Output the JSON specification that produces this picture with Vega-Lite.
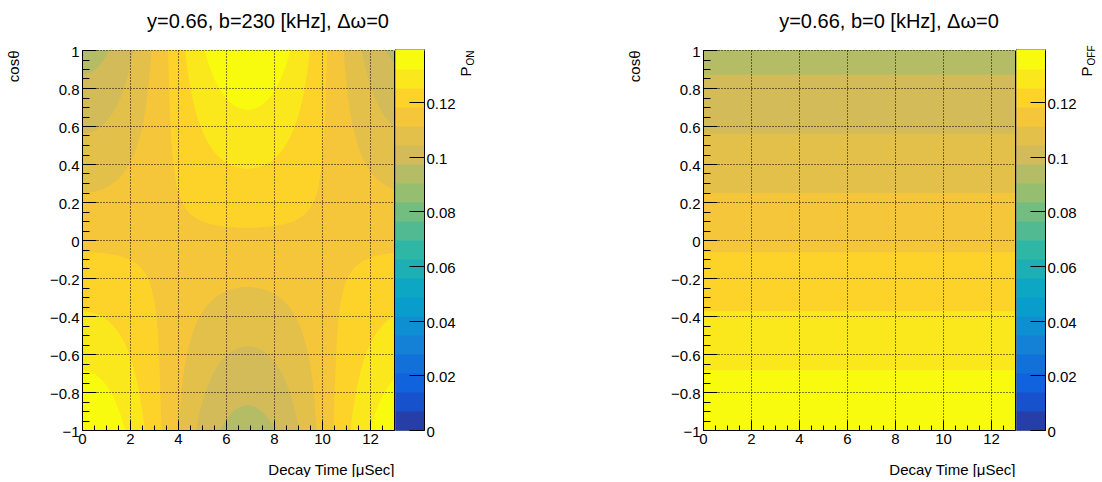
{
  "$schema": "https://vega.github.io/schema/vega-lite/v6.json",
  "background": "white",
  "padding": {"left": 6, "top": 11, "right": 0, "bottom": 0},
  "config": {
    "font": "Liberation Sans",
    "view": {"stroke": "black", "strokeWidth": 2},
    "axis": {"domain": false, "labelFont": "Liberation Sans", "labelFontSize": 15, "labelColor": "black", "tickColor": "black", "titleFont": "Liberation Sans", "titleFontSize": 15, "titleFontWeight": "normal", "titleColor": "black", "labelOverlap": false, "labelFlush": false, "gridColor": "black", "gridWidth": 1}
  },
  "datasets": {
    "pOn": [
      {"t":0,"lo":-1.5,"hi":1.5,"p":0.0938,"part":"a"},{"t":13,"lo":-1.5,"hi":1.5,"p":0.0938,"part":"a"},
      {"t":0,"lo":-1.5,"hi":0.87,"p":0.1008,"part":"a"},{"t":0.15,"lo":-1.5,"hi":0.872,"p":0.1008,"part":"a"},{"t":0.4,"lo":-1.5,"hi":0.8846,"p":0.1008,"part":"a"},{"t":0.65,"lo":-1.5,"hi":0.9095,"p":0.1008,"part":"a"},{"t":0.9,"lo":-1.5,"hi":0.9485,"p":0.1008,"part":"a"},{"t":1.15,"lo":-1.5,"hi":1.0046,"p":0.1008,"part":"a"},{"t":1.4,"lo":-1.5,"hi":1.0826,"p":0.1008,"part":"a"},{"t":1.65,"lo":-1.5,"hi":1.1904,"p":0.1008,"part":"a"},{"t":1.9,"lo":-1.5,"hi":1.3414,"p":0.1008,"part":"a"},{"t":2.15,"lo":-1.5,"hi":1.5,"p":0.1008,"part":"a"},{"t":4.65,"lo":-1.5,"hi":1.5,"p":0.1008,"part":"a"},{"t":4.9,"lo":-1.4186,"hi":1.5,"p":0.1008,"part":"a"},{"t":5.15,"lo":-1.2446,"hi":1.5,"p":0.1008,"part":"a"},{"t":5.4,"lo":-1.1216,"hi":1.5,"p":0.1008,"part":"a"},{"t":5.65,"lo":-1.0328,"hi":1.5,"p":0.1008,"part":"a"},{"t":5.9,"lo":-0.9687,"hi":1.5,"p":0.1008,"part":"a"},{"t":6.15,"lo":-0.9233,"hi":1.5,"p":0.1008,"part":"a"},{"t":6.4,"lo":-0.893,"hi":1.5,"p":0.1008,"part":"a"},{"t":6.65,"lo":-0.8757,"hi":1.5,"p":0.1008,"part":"a"},{"t":6.9,"lo":-0.87,"hi":1.5,"p":0.1008,"part":"a"},{"t":7.15,"lo":-0.8757,"hi":1.5,"p":0.1008,"part":"a"},{"t":7.4,"lo":-0.893,"hi":1.5,"p":0.1008,"part":"a"},{"t":7.65,"lo":-0.9233,"hi":1.5,"p":0.1008,"part":"a"},{"t":7.9,"lo":-0.9687,"hi":1.5,"p":0.1008,"part":"a"},{"t":8.15,"lo":-1.0328,"hi":1.5,"p":0.1008,"part":"a"},{"t":8.4,"lo":-1.1216,"hi":1.5,"p":0.1008,"part":"a"},{"t":8.65,"lo":-1.2446,"hi":1.5,"p":0.1008,"part":"a"},{"t":8.9,"lo":-1.4186,"hi":1.5,"p":0.1008,"part":"a"},{"t":9.15,"lo":-1.5,"hi":1.5,"p":0.1008,"part":"a"},{"t":11.65,"lo":-1.5,"hi":1.5,"p":0.1008,"part":"a"},{"t":11.9,"lo":-1.5,"hi":1.3414,"p":0.1008,"part":"a"},{"t":12.15,"lo":-1.5,"hi":1.1904,"p":0.1008,"part":"a"},{"t":12.4,"lo":-1.5,"hi":1.0826,"p":0.1008,"part":"a"},{"t":12.65,"lo":-1.5,"hi":1.0046,"p":0.1008,"part":"a"},{"t":12.9,"lo":-1.5,"hi":0.9485,"p":0.1008,"part":"a"},{"t":13,"lo":-1.5,"hi":0.9311,"p":0.1008,"part":"a"},
      {"t":0,"lo":-1.5,"hi":0.559,"p":0.1077,"part":"a"},{"t":0.15,"lo":-1.5,"hi":0.5603,"p":0.1077,"part":"a"},{"t":0.4,"lo":-1.5,"hi":0.5684,"p":0.1077,"part":"a"},{"t":0.65,"lo":-1.5,"hi":0.5844,"p":0.1077,"part":"a"},{"t":0.9,"lo":-1.5,"hi":0.6095,"p":0.1077,"part":"a"},{"t":1.15,"lo":-1.5,"hi":0.6455,"p":0.1077,"part":"a"},{"t":1.4,"lo":-1.5,"hi":0.6956,"p":0.1077,"part":"a"},{"t":1.65,"lo":-1.5,"hi":0.7649,"p":0.1077,"part":"a"},{"t":1.9,"lo":-1.5,"hi":0.8619,"p":0.1077,"part":"a"},{"t":2.15,"lo":-1.5,"hi":1.0019,"p":0.1077,"part":"a"},{"t":2.4,"lo":-1.5,"hi":1.215,"p":0.1077,"part":"a"},{"t":2.65,"lo":-1.5,"hi":1.5,"p":0.1077,"part":"a"},{"t":4.15,"lo":-1.5,"hi":1.5,"p":0.1077,"part":"a"},{"t":4.4,"lo":-1.3336,"hi":1.5,"p":0.1077,"part":"a"},{"t":4.65,"lo":-1.0759,"hi":1.5,"p":0.1077,"part":"a"},{"t":4.9,"lo":-0.9115,"hi":1.5,"p":0.1077,"part":"a"},{"t":5.15,"lo":-0.7997,"hi":1.5,"p":0.1077,"part":"a"},{"t":5.4,"lo":-0.7206,"hi":1.5,"p":0.1077,"part":"a"},{"t":5.65,"lo":-0.6636,"hi":1.5,"p":0.1077,"part":"a"},{"t":5.9,"lo":-0.6224,"hi":1.5,"p":0.1077,"part":"a"},{"t":6.15,"lo":-0.5933,"hi":1.5,"p":0.1077,"part":"a"},{"t":6.4,"lo":-0.5738,"hi":1.5,"p":0.1077,"part":"a"},{"t":6.65,"lo":-0.5626,"hi":1.5,"p":0.1077,"part":"a"},{"t":6.9,"lo":-0.559,"hi":1.5,"p":0.1077,"part":"a"},{"t":7.15,"lo":-0.5626,"hi":1.5,"p":0.1077,"part":"a"},{"t":7.4,"lo":-0.5738,"hi":1.5,"p":0.1077,"part":"a"},{"t":7.65,"lo":-0.5933,"hi":1.5,"p":0.1077,"part":"a"},{"t":7.9,"lo":-0.6224,"hi":1.5,"p":0.1077,"part":"a"},{"t":8.15,"lo":-0.6636,"hi":1.5,"p":0.1077,"part":"a"},{"t":8.4,"lo":-0.7206,"hi":1.5,"p":0.1077,"part":"a"},{"t":8.65,"lo":-0.7997,"hi":1.5,"p":0.1077,"part":"a"},{"t":8.9,"lo":-0.9115,"hi":1.5,"p":0.1077,"part":"a"},{"t":9.15,"lo":-1.0759,"hi":1.5,"p":0.1077,"part":"a"},{"t":9.4,"lo":-1.3336,"hi":1.5,"p":0.1077,"part":"a"},{"t":9.65,"lo":-1.5,"hi":1.5,"p":0.1077,"part":"a"},{"t":11.15,"lo":-1.5,"hi":1.5,"p":0.1077,"part":"a"},{"t":11.4,"lo":-1.5,"hi":1.215,"p":0.1077,"part":"a"},{"t":11.65,"lo":-1.5,"hi":1.0019,"p":0.1077,"part":"a"},{"t":11.9,"lo":-1.5,"hi":0.8619,"p":0.1077,"part":"a"},{"t":12.15,"lo":-1.5,"hi":0.7649,"p":0.1077,"part":"a"},{"t":12.4,"lo":-1.5,"hi":0.6956,"p":0.1077,"part":"a"},{"t":12.65,"lo":-1.5,"hi":0.6455,"p":0.1077,"part":"a"},{"t":12.9,"lo":-1.5,"hi":0.6095,"p":0.1077,"part":"a"},{"t":13,"lo":-1.5,"hi":0.5983,"p":0.1077,"part":"a"},
      {"t":0,"lo":-1.5,"hi":0.248,"p":0.1147,"part":"a"},{"t":0.15,"lo":-1.5,"hi":0.2486,"p":0.1147,"part":"a"},{"t":0.4,"lo":-1.5,"hi":0.2522,"p":0.1147,"part":"a"},{"t":0.65,"lo":-1.5,"hi":0.2593,"p":0.1147,"part":"a"},{"t":0.9,"lo":-1.5,"hi":0.2704,"p":0.1147,"part":"a"},{"t":1.15,"lo":-1.5,"hi":0.2864,"p":0.1147,"part":"a"},{"t":1.4,"lo":-1.5,"hi":0.3086,"p":0.1147,"part":"a"},{"t":1.65,"lo":-1.5,"hi":0.3393,"p":0.1147,"part":"a"},{"t":1.9,"lo":-1.5,"hi":0.3824,"p":0.1147,"part":"a"},{"t":2.15,"lo":-1.5,"hi":0.4445,"p":0.1147,"part":"a"},{"t":2.4,"lo":-1.5,"hi":0.539,"p":0.1147,"part":"a"},{"t":2.65,"lo":-1.5,"hi":0.6962,"p":0.1147,"part":"a"},{"t":2.9,"lo":-1.5,"hi":1.0008,"p":0.1147,"part":"a"},{"t":3.15,"lo":-1.5,"hi":1.5,"p":0.1147,"part":"a"},{"t":3.65,"lo":-1.5,"hi":1.5,"p":0.1147,"part":"a"},{"t":3.9,"lo":-1.2189,"hi":1.5,"p":0.1147,"part":"a"},{"t":4.15,"lo":-0.7915,"hi":1.5,"p":0.1147,"part":"a"},{"t":4.4,"lo":-0.5916,"hi":1.5,"p":0.1147,"part":"a"},{"t":4.65,"lo":-0.4773,"hi":1.5,"p":0.1147,"part":"a"},{"t":4.9,"lo":-0.4044,"hi":1.5,"p":0.1147,"part":"a"},{"t":5.15,"lo":-0.3548,"hi":1.5,"p":0.1147,"part":"a"},{"t":5.4,"lo":-0.3197,"hi":1.5,"p":0.1147,"part":"a"},{"t":5.65,"lo":-0.2944,"hi":1.5,"p":0.1147,"part":"a"},{"t":5.9,"lo":-0.2761,"hi":1.5,"p":0.1147,"part":"a"},{"t":6.15,"lo":-0.2632,"hi":1.5,"p":0.1147,"part":"a"},{"t":6.4,"lo":-0.2546,"hi":1.5,"p":0.1147,"part":"a"},{"t":6.65,"lo":-0.2496,"hi":1.5,"p":0.1147,"part":"a"},{"t":6.9,"lo":-0.248,"hi":1.5,"p":0.1147,"part":"a"},{"t":7.15,"lo":-0.2496,"hi":1.5,"p":0.1147,"part":"a"},{"t":7.4,"lo":-0.2546,"hi":1.5,"p":0.1147,"part":"a"},{"t":7.65,"lo":-0.2632,"hi":1.5,"p":0.1147,"part":"a"},{"t":7.9,"lo":-0.2761,"hi":1.5,"p":0.1147,"part":"a"},{"t":8.15,"lo":-0.2944,"hi":1.5,"p":0.1147,"part":"a"},{"t":8.4,"lo":-0.3197,"hi":1.5,"p":0.1147,"part":"a"},{"t":8.65,"lo":-0.3548,"hi":1.5,"p":0.1147,"part":"a"},{"t":8.9,"lo":-0.4044,"hi":1.5,"p":0.1147,"part":"a"},{"t":9.15,"lo":-0.4773,"hi":1.5,"p":0.1147,"part":"a"},{"t":9.4,"lo":-0.5916,"hi":1.5,"p":0.1147,"part":"a"},{"t":9.65,"lo":-0.7915,"hi":1.5,"p":0.1147,"part":"a"},{"t":9.9,"lo":-1.2189,"hi":1.5,"p":0.1147,"part":"a"},{"t":10.15,"lo":-1.5,"hi":1.5,"p":0.1147,"part":"a"},{"t":10.65,"lo":-1.5,"hi":1.5,"p":0.1147,"part":"a"},{"t":10.9,"lo":-1.5,"hi":1.0008,"p":0.1147,"part":"a"},{"t":11.15,"lo":-1.5,"hi":0.6962,"p":0.1147,"part":"a"},{"t":11.4,"lo":-1.5,"hi":0.539,"p":0.1147,"part":"a"},{"t":11.65,"lo":-1.5,"hi":0.4445,"p":0.1147,"part":"a"},{"t":11.9,"lo":-1.5,"hi":0.3824,"p":0.1147,"part":"a"},{"t":12.15,"lo":-1.5,"hi":0.3393,"p":0.1147,"part":"a"},{"t":12.4,"lo":-1.5,"hi":0.3086,"p":0.1147,"part":"a"},{"t":12.65,"lo":-1.5,"hi":0.2864,"p":0.1147,"part":"a"},{"t":12.9,"lo":-1.5,"hi":0.2704,"p":0.1147,"part":"a"},{"t":13,"lo":-1.5,"hi":0.2654,"p":0.1147,"part":"a"},
      {"t":0,"lo":-1.5,"hi":-0.064,"p":0.1216,"part":"a"},{"t":0.15,"lo":-1.5,"hi":-0.0642,"p":0.1216,"part":"a"},{"t":0.4,"lo":-1.5,"hi":-0.0651,"p":0.1216,"part":"a"},{"t":0.65,"lo":-1.5,"hi":-0.0669,"p":0.1216,"part":"a"},{"t":0.9,"lo":-1.5,"hi":-0.0698,"p":0.1216,"part":"a"},{"t":1.15,"lo":-1.5,"hi":-0.0739,"p":0.1216,"part":"a"},{"t":1.4,"lo":-1.5,"hi":-0.0796,"p":0.1216,"part":"a"},{"t":1.65,"lo":-1.5,"hi":-0.0876,"p":0.1216,"part":"a"},{"t":1.9,"lo":-1.5,"hi":-0.0987,"p":0.1216,"part":"a"},{"t":2.15,"lo":-1.5,"hi":-0.1147,"p":0.1216,"part":"a"},{"t":2.4,"lo":-1.5,"hi":-0.1391,"p":0.1216,"part":"a"},{"t":2.65,"lo":-1.5,"hi":-0.1797,"p":0.1216,"part":"a"},{"t":2.9,"lo":-1.5,"hi":-0.2583,"p":0.1216,"part":"a"},{"t":3.15,"lo":-1.5,"hi":-0.47,"p":0.1216,"part":"a"},{"t":3.3,"lo":-1.5,"hi":-0.9378,"p":0.1216,"part":"a"},{"t":3.4,"lo":-1.5,"hi":-1.5,"p":0.1216,"part":"a"},{"t":10.4,"lo":-1.5,"hi":-1.5,"p":0.1216,"part":"a"},{"t":10.5,"lo":-1.5,"hi":-0.9378,"p":0.1216,"part":"a"},{"t":10.65,"lo":-1.5,"hi":-0.47,"p":0.1216,"part":"a"},{"t":10.9,"lo":-1.5,"hi":-0.2583,"p":0.1216,"part":"a"},{"t":11.15,"lo":-1.5,"hi":-0.1797,"p":0.1216,"part":"a"},{"t":11.4,"lo":-1.5,"hi":-0.1391,"p":0.1216,"part":"a"},{"t":11.65,"lo":-1.5,"hi":-0.1147,"p":0.1216,"part":"a"},{"t":11.9,"lo":-1.5,"hi":-0.0987,"p":0.1216,"part":"a"},{"t":12.15,"lo":-1.5,"hi":-0.0876,"p":0.1216,"part":"a"},{"t":12.4,"lo":-1.5,"hi":-0.0796,"p":0.1216,"part":"a"},{"t":12.65,"lo":-1.5,"hi":-0.0739,"p":0.1216,"part":"a"},{"t":12.9,"lo":-1.5,"hi":-0.0698,"p":0.1216,"part":"a"},{"t":13,"lo":-1.5,"hi":-0.0685,"p":0.1216,"part":"a"},
      {"t":3.4,"lo":1.5,"hi":1.5,"p":0.1216,"part":"b"},{"t":3.6,"lo":0.9378,"hi":1.5,"p":0.1216,"part":"b"},{"t":3.65,"lo":0.7038,"hi":1.5,"p":0.1216,"part":"b"},{"t":3.9,"lo":0.3146,"hi":1.5,"p":0.1216,"part":"b"},{"t":4.15,"lo":0.2043,"hi":1.5,"p":0.1216,"part":"b"},{"t":4.4,"lo":0.1527,"hi":1.5,"p":0.1216,"part":"b"},{"t":4.65,"lo":0.1232,"hi":1.5,"p":0.1216,"part":"b"},{"t":4.9,"lo":0.1044,"hi":1.5,"p":0.1216,"part":"b"},{"t":5.15,"lo":0.0916,"hi":1.5,"p":0.1216,"part":"b"},{"t":5.4,"lo":0.0825,"hi":1.5,"p":0.1216,"part":"b"},{"t":5.65,"lo":0.076,"hi":1.5,"p":0.1216,"part":"b"},{"t":5.9,"lo":0.0713,"hi":1.5,"p":0.1216,"part":"b"},{"t":6.15,"lo":0.0679,"hi":1.5,"p":0.1216,"part":"b"},{"t":6.4,"lo":0.0657,"hi":1.5,"p":0.1216,"part":"b"},{"t":6.65,"lo":0.0644,"hi":1.5,"p":0.1216,"part":"b"},{"t":6.9,"lo":0.064,"hi":1.5,"p":0.1216,"part":"b"},{"t":7.15,"lo":0.0644,"hi":1.5,"p":0.1216,"part":"b"},{"t":7.4,"lo":0.0657,"hi":1.5,"p":0.1216,"part":"b"},{"t":7.65,"lo":0.0679,"hi":1.5,"p":0.1216,"part":"b"},{"t":7.9,"lo":0.0713,"hi":1.5,"p":0.1216,"part":"b"},{"t":8.15,"lo":0.076,"hi":1.5,"p":0.1216,"part":"b"},{"t":8.4,"lo":0.0825,"hi":1.5,"p":0.1216,"part":"b"},{"t":8.65,"lo":0.0916,"hi":1.5,"p":0.1216,"part":"b"},{"t":8.9,"lo":0.1044,"hi":1.5,"p":0.1216,"part":"b"},{"t":9.15,"lo":0.1232,"hi":1.5,"p":0.1216,"part":"b"},{"t":9.4,"lo":0.1527,"hi":1.5,"p":0.1216,"part":"b"},{"t":9.65,"lo":0.2043,"hi":1.5,"p":0.1216,"part":"b"},{"t":9.9,"lo":0.3146,"hi":1.5,"p":0.1216,"part":"b"},{"t":10.15,"lo":0.7038,"hi":1.5,"p":0.1216,"part":"b"},{"t":10.2,"lo":0.9378,"hi":1.5,"p":0.1216,"part":"b"},{"t":10.4,"lo":1.5,"hi":1.5,"p":0.1216,"part":"b"},
      {"t":0,"lo":-1.5,"hi":-0.375,"p":0.1286,"part":"a"},{"t":0.15,"lo":-1.5,"hi":-0.3759,"p":0.1286,"part":"a"},{"t":0.4,"lo":-1.5,"hi":-0.3813,"p":0.1286,"part":"a"},{"t":0.65,"lo":-1.5,"hi":-0.392,"p":0.1286,"part":"a"},{"t":0.9,"lo":-1.5,"hi":-0.4088,"p":0.1286,"part":"a"},{"t":1.15,"lo":-1.5,"hi":-0.433,"p":0.1286,"part":"a"},{"t":1.4,"lo":-1.5,"hi":-0.4666,"p":0.1286,"part":"a"},{"t":1.65,"lo":-1.5,"hi":-0.5131,"p":0.1286,"part":"a"},{"t":1.9,"lo":-1.5,"hi":-0.5782,"p":0.1286,"part":"a"},{"t":2.15,"lo":-1.5,"hi":-0.6721,"p":0.1286,"part":"a"},{"t":2.4,"lo":-1.5,"hi":-0.8151,"p":0.1286,"part":"a"},{"t":2.65,"lo":-1.5,"hi":-1.0527,"p":0.1286,"part":"a"},{"t":2.9,"lo":-1.5,"hi":-1.5,"p":0.1286,"part":"a"},{"t":10.9,"lo":-1.5,"hi":-1.5,"p":0.1286,"part":"a"},{"t":11.15,"lo":-1.5,"hi":-1.0527,"p":0.1286,"part":"a"},{"t":11.4,"lo":-1.5,"hi":-0.8151,"p":0.1286,"part":"a"},{"t":11.65,"lo":-1.5,"hi":-0.6721,"p":0.1286,"part":"a"},{"t":11.9,"lo":-1.5,"hi":-0.5782,"p":0.1286,"part":"a"},{"t":12.15,"lo":-1.5,"hi":-0.5131,"p":0.1286,"part":"a"},{"t":12.4,"lo":-1.5,"hi":-0.4666,"p":0.1286,"part":"a"},{"t":12.65,"lo":-1.5,"hi":-0.433,"p":0.1286,"part":"a"},{"t":12.9,"lo":-1.5,"hi":-0.4088,"p":0.1286,"part":"a"},{"t":13,"lo":-1.5,"hi":-0.4013,"p":0.1286,"part":"a"},
      {"t":3.9,"lo":1.5,"hi":1.5,"p":0.1286,"part":"b"},{"t":4.15,"lo":1.1968,"hi":1.5,"p":0.1286,"part":"b"},{"t":4.4,"lo":0.8946,"hi":1.5,"p":0.1286,"part":"b"},{"t":4.65,"lo":0.7217,"hi":1.5,"p":0.1286,"part":"b"},{"t":4.9,"lo":0.6115,"hi":1.5,"p":0.1286,"part":"b"},{"t":5.15,"lo":0.5365,"hi":1.5,"p":0.1286,"part":"b"},{"t":5.4,"lo":0.4834,"hi":1.5,"p":0.1286,"part":"b"},{"t":5.65,"lo":0.4452,"hi":1.5,"p":0.1286,"part":"b"},{"t":5.9,"lo":0.4175,"hi":1.5,"p":0.1286,"part":"b"},{"t":6.15,"lo":0.398,"hi":1.5,"p":0.1286,"part":"b"},{"t":6.4,"lo":0.3849,"hi":1.5,"p":0.1286,"part":"b"},{"t":6.65,"lo":0.3774,"hi":1.5,"p":0.1286,"part":"b"},{"t":6.9,"lo":0.375,"hi":1.5,"p":0.1286,"part":"b"},{"t":7.15,"lo":0.3774,"hi":1.5,"p":0.1286,"part":"b"},{"t":7.4,"lo":0.3849,"hi":1.5,"p":0.1286,"part":"b"},{"t":7.65,"lo":0.398,"hi":1.5,"p":0.1286,"part":"b"},{"t":7.9,"lo":0.4175,"hi":1.5,"p":0.1286,"part":"b"},{"t":8.15,"lo":0.4452,"hi":1.5,"p":0.1286,"part":"b"},{"t":8.4,"lo":0.4834,"hi":1.5,"p":0.1286,"part":"b"},{"t":8.65,"lo":0.5365,"hi":1.5,"p":0.1286,"part":"b"},{"t":8.9,"lo":0.6115,"hi":1.5,"p":0.1286,"part":"b"},{"t":9.15,"lo":0.7217,"hi":1.5,"p":0.1286,"part":"b"},{"t":9.4,"lo":0.8946,"hi":1.5,"p":0.1286,"part":"b"},{"t":9.65,"lo":1.1968,"hi":1.5,"p":0.1286,"part":"b"},{"t":9.9,"lo":1.5,"hi":1.5,"p":0.1286,"part":"b"},
      {"t":0,"lo":-1.5,"hi":-0.686,"p":0.1355,"part":"a"},{"t":0.15,"lo":-1.5,"hi":-0.6876,"p":0.1355,"part":"a"},{"t":0.4,"lo":-1.5,"hi":-0.6975,"p":0.1355,"part":"a"},{"t":0.65,"lo":-1.5,"hi":-0.7172,"p":0.1355,"part":"a"},{"t":0.9,"lo":-1.5,"hi":-0.7479,"p":0.1355,"part":"a"},{"t":1.15,"lo":-1.5,"hi":-0.7921,"p":0.1355,"part":"a"},{"t":1.4,"lo":-1.5,"hi":-0.8536,"p":0.1355,"part":"a"},{"t":1.65,"lo":-1.5,"hi":-0.9387,"p":0.1355,"part":"a"},{"t":1.9,"lo":-1.5,"hi":-1.0577,"p":0.1355,"part":"a"},{"t":2.15,"lo":-1.5,"hi":-1.2295,"p":0.1355,"part":"a"},{"t":2.4,"lo":-1.5,"hi":-1.4911,"p":0.1355,"part":"a"},{"t":2.65,"lo":-1.5,"hi":-1.5,"p":0.1355,"part":"a"},{"t":11.15,"lo":-1.5,"hi":-1.5,"p":0.1355,"part":"a"},{"t":11.4,"lo":-1.5,"hi":-1.4911,"p":0.1355,"part":"a"},{"t":11.65,"lo":-1.5,"hi":-1.2295,"p":0.1355,"part":"a"},{"t":11.9,"lo":-1.5,"hi":-1.0577,"p":0.1355,"part":"a"},{"t":12.15,"lo":-1.5,"hi":-0.9387,"p":0.1355,"part":"a"},{"t":12.4,"lo":-1.5,"hi":-0.8536,"p":0.1355,"part":"a"},{"t":12.65,"lo":-1.5,"hi":-0.7921,"p":0.1355,"part":"a"},{"t":12.9,"lo":-1.5,"hi":-0.7479,"p":0.1355,"part":"a"},{"t":13,"lo":-1.5,"hi":-0.7342,"p":0.1355,"part":"a"},
      {"t":4.4,"lo":1.5,"hi":1.5,"p":0.1355,"part":"b"},{"t":4.65,"lo":1.3203,"hi":1.5,"p":0.1355,"part":"b"},{"t":4.9,"lo":1.1186,"hi":1.5,"p":0.1355,"part":"b"},{"t":5.15,"lo":0.9814,"hi":1.5,"p":0.1355,"part":"b"},{"t":5.4,"lo":0.8844,"hi":1.5,"p":0.1355,"part":"b"},{"t":5.65,"lo":0.8144,"hi":1.5,"p":0.1355,"part":"b"},{"t":5.9,"lo":0.7638,"hi":1.5,"p":0.1355,"part":"b"},{"t":6.15,"lo":0.728,"hi":1.5,"p":0.1355,"part":"b"},{"t":6.4,"lo":0.7042,"hi":1.5,"p":0.1355,"part":"b"},{"t":6.65,"lo":0.6905,"hi":1.5,"p":0.1355,"part":"b"},{"t":6.9,"lo":0.686,"hi":1.5,"p":0.1355,"part":"b"},{"t":7.15,"lo":0.6905,"hi":1.5,"p":0.1355,"part":"b"},{"t":7.4,"lo":0.7042,"hi":1.5,"p":0.1355,"part":"b"},{"t":7.65,"lo":0.728,"hi":1.5,"p":0.1355,"part":"b"},{"t":7.9,"lo":0.7638,"hi":1.5,"p":0.1355,"part":"b"},{"t":8.15,"lo":0.8144,"hi":1.5,"p":0.1355,"part":"b"},{"t":8.4,"lo":0.8844,"hi":1.5,"p":0.1355,"part":"b"},{"t":8.65,"lo":0.9814,"hi":1.5,"p":0.1355,"part":"b"},{"t":8.9,"lo":1.1186,"hi":1.5,"p":0.1355,"part":"b"},{"t":9.15,"lo":1.3203,"hi":1.5,"p":0.1355,"part":"b"},{"t":9.4,"lo":1.5,"hi":1.5,"p":0.1355,"part":"b"}
    ],
    "pOff": [
      {"t":0,"lo":-1.5,"hi":1.5,"p":0.0938,"part":"a"},{"t":13,"lo":-1.5,"hi":1.5,"p":0.0938,"part":"a"},
      {"t":0,"lo":-1.5,"hi":0.87,"p":0.1008,"part":"a"},{"t":13,"lo":-1.5,"hi":0.87,"p":0.1008,"part":"a"},
      {"t":0,"lo":-1.5,"hi":0.559,"p":0.1077,"part":"a"},{"t":13,"lo":-1.5,"hi":0.559,"p":0.1077,"part":"a"},
      {"t":0,"lo":-1.5,"hi":0.248,"p":0.1147,"part":"a"},{"t":13,"lo":-1.5,"hi":0.248,"p":0.1147,"part":"a"},
      {"t":0,"lo":-1.5,"hi":-0.064,"p":0.1216,"part":"a"},{"t":13,"lo":-1.5,"hi":-0.064,"p":0.1216,"part":"a"},
      {"t":0,"lo":-1.5,"hi":-0.375,"p":0.1286,"part":"a"},{"t":13,"lo":-1.5,"hi":-0.375,"p":0.1286,"part":"a"},
      {"t":0,"lo":-1.5,"hi":-0.686,"p":0.1355,"part":"a"},{"t":13,"lo":-1.5,"hi":-0.686,"p":0.1355,"part":"a"}
    ],
    "bands": [
      {"lo":0,"hi":0.00695,"p":0.0035},{"lo":0.00695,"hi":0.0139,"p":0.0104},{"lo":0.0139,"hi":0.02085,"p":0.0174},{"lo":0.02085,"hi":0.0278,"p":0.0243},{"lo":0.0278,"hi":0.03475,"p":0.0313},
      {"lo":0.03475,"hi":0.0417,"p":0.0382},{"lo":0.0417,"hi":0.04865,"p":0.0452},{"lo":0.04865,"hi":0.0556,"p":0.0521},{"lo":0.0556,"hi":0.06255,"p":0.0591},{"lo":0.06255,"hi":0.0695,"p":0.066},
      {"lo":0.0695,"hi":0.07645,"p":0.073},{"lo":0.07645,"hi":0.0834,"p":0.0799},{"lo":0.0834,"hi":0.09035,"p":0.0869},{"lo":0.09035,"hi":0.0973,"p":0.0938},{"lo":0.0973,"hi":0.10425,"p":0.1008},
      {"lo":0.10425,"hi":0.1112,"p":0.1077},{"lo":0.1112,"hi":0.11815,"p":0.1147},{"lo":0.11815,"hi":0.1251,"p":0.1216},{"lo":0.1251,"hi":0.13205,"p":0.1286},{"lo":0.13205,"hi":0.139,"p":0.1355}
    ]
  },
  "resolve": {"scale": {"x": "independent", "y": "independent"}},
  "bounds": "full",
  "spacing": 151,
  "hconcat": [
    {
      "bounds": "flush",
      "spacing": 2,
      "resolve": {"scale": {"x": "independent", "y": "independent"}},
      "hconcat": [
        {
          "width": 312, "height": 380,
          "view": {"stroke": null},
          "title": {"text": "y=0.66, b=230 [kHz], Δω=0", "font": "Liberation Sans", "fontSize": 20, "fontWeight": "normal", "color": "black", "anchor": "middle", "frame": "group", "dx": 30, "offset": -3, "baseline": "alphabetic"},
          "data": {"name": "pOn"},
          "encoding": {
            "x": {"field": "t", "type": "quantitative", "scale": {"domain": [0, 13], "nice": false, "zero": false},
              "axis": {"zindex": 1, "values": [0,0.5,1,1.5,2,2.5,3,3.5,4,4.5,5,5.5,6,6.5,7,7.5,8,8.5,9,9.5,10,10.5,11,11.5,12,12.5,13],
                "labelExpr": "datum.value % 2 == 0 ? format(datum.value, 'd') : ''",
                "tickSize": {"condition": {"test": "datum.value % 2 == 0", "value": -10}, "value": -5},
                "grid": true, "gridOpacity": {"condition": {"test": "datum.value % 2 == 0 || datum.value == 13", "value": 1}, "value": 0},
                "gridDash": {"condition": {"test": "datum.value == 0 || datum.value == 13", "value": []}, "value": [1, 2]},
                "labelPadding": 11.5, "title": "Decay Time [μSec]", "titleAnchor": "end", "titleAlign": "right", "titleX": 312, "titleY": 39, "titleBaseline": "middle"}},
            "y": {"field": "lo", "type": "quantitative", "scale": {"domain": [-1, 1], "nice": false, "zero": false},
              "axis": {"zindex": 1, "values": [-1,-0.95,-0.9,-0.85,-0.8,-0.75,-0.7,-0.65,-0.6,-0.55,-0.5,-0.45,-0.4,-0.35,-0.3,-0.25,-0.2,-0.15,-0.1,-0.05,0,0.05,0.1,0.15,0.2,0.25,0.3,0.35,0.4,0.45,0.5,0.55,0.6,0.65,0.7,0.75,0.8,0.85,0.9,0.95,1],
                "labelExpr": "abs(datum.value*5 - round(datum.value*5)) < 0.01 ? format(datum.value, '~g') : ''",
                "tickSize": {"condition": {"test": "abs(datum.value*5 - round(datum.value*5)) < 0.01", "value": -14}, "value": -7},
                "grid": true, "gridOpacity": {"condition": {"test": "abs(datum.value*5 - round(datum.value*5)) < 0.01", "value": 1}, "value": 0},
                "gridDash": {"condition": {"test": "datum.value < -0.99", "value": []}, "value": [1, 2]},
                "labelPadding": 17, "labelOffset": 1.5,
                "title": "cosθ", "titleAngle": -90, "titleX": -64, "titleY": 0, "titleAlign": "right", "titleBaseline": "alphabetic"}},
            "y2": {"field": "hi"},
            "detail": {"field": "part"},
            "fill": {"field": "p", "type": "quantitative", "legend": null, "scale": {"type": "threshold", "domain": [0.00695,0.0139,0.02085,0.0278,0.03475,0.0417,0.04865,0.0556,0.06255,0.0695,0.07645,0.0834,0.09035,0.0973,0.10425,0.1112,0.11815,0.1251,0.13205], "range": ["#273DA8","#1751CB","#1063DC","#1271D9","#1480D6","#0E8FD1","#099DCC","#0DA7C3","#1EAFB4","#2EB7A4","#52BA92","#74BD81","#96BE71","#B4BD65","#D2BB58","#E3C04A","#F5C53A","#FDD32A","#FBE81C","#F9FB0E"]}}
          },
          "layer": [
            {"transform": [{"filter": "datum.p == 0.0938"}], "mark": {"type": "area", "orient": "vertical", "interpolate": "monotone", "clip": true}},
            {"transform": [{"filter": "datum.p == 0.1008"}], "mark": {"type": "area", "orient": "vertical", "interpolate": "monotone", "clip": true}},
            {"transform": [{"filter": "datum.p == 0.1077"}], "mark": {"type": "area", "orient": "vertical", "interpolate": "monotone", "clip": true}},
            {"transform": [{"filter": "datum.p == 0.1147"}], "mark": {"type": "area", "orient": "vertical", "interpolate": "monotone", "clip": true}},
            {"transform": [{"filter": "datum.p == 0.1216"}], "mark": {"type": "area", "orient": "vertical", "interpolate": "monotone", "clip": true}},
            {"transform": [{"filter": "datum.p == 0.1286"}], "mark": {"type": "area", "orient": "vertical", "interpolate": "monotone", "clip": true}},
            {"transform": [{"filter": "datum.p == 0.1355"}], "mark": {"type": "area", "orient": "vertical", "interpolate": "monotone", "clip": true}}
          ]
        },
        {
          "width": 28, "height": 380,
          "view": {"stroke": "#777777", "strokeWidth": 2},
          "data": {"name": "bands"},
          "mark": {"type": "rect", "strokeWidth": 1},
          "encoding": {
            "x": {"datum": 0, "type": "quantitative", "scale": {"domain": [0, 1], "nice": false, "zero": false},
              "axis": {"orient": "top", "ticks": false, "labels": false, "grid": false, "title": "ON", "titleFontSize": 10, "titleAngle": -90, "titleX": 77, "titleY": 15, "titleAlign": "left", "titleBaseline": "alphabetic"}},
            "x2": {"datum": 1},
            "y": {"field": "lo", "type": "quantitative", "scale": {"domain": [0, 0.139], "nice": false, "zero": false},
              "axis": {"zindex": 1, "orient": "right", "values": [0,0.02,0.04,0.06,0.08,0.1,0.12], "labelExpr": "format(datum.value, '~g')", "tickSize": -15, "labelPadding": 17, "labelOffset": 1.5, "grid": false,
                "domain": true, "domainColor": "black", "domainWidth": 1,
                "title": "P", "titleAngle": -90, "titleX": 46, "titleY": 26, "titleAlign": "left", "titleBaseline": "alphabetic"}},
            "y2": {"field": "hi"},
            "fill": {"field": "p", "type": "quantitative", "legend": null, "scale": {"type": "threshold", "domain": [0.00695,0.0139,0.02085,0.0278,0.03475,0.0417,0.04865,0.0556,0.06255,0.0695,0.07645,0.0834,0.09035,0.0973,0.10425,0.1112,0.11815,0.1251,0.13205], "range": ["#273DA8","#1751CB","#1063DC","#1271D9","#1480D6","#0E8FD1","#099DCC","#0DA7C3","#1EAFB4","#2EB7A4","#52BA92","#74BD81","#96BE71","#B4BD65","#D2BB58","#E3C04A","#F5C53A","#FDD32A","#FBE81C","#F9FB0E"]}},
            "stroke": {"field": "p", "type": "quantitative", "legend": null, "scale": {"type": "threshold", "domain": [0.00695,0.0139,0.02085,0.0278,0.03475,0.0417,0.04865,0.0556,0.06255,0.0695,0.07645,0.0834,0.09035,0.0973,0.10425,0.1112,0.11815,0.1251,0.13205], "range": ["#273DA8","#1751CB","#1063DC","#1271D9","#1480D6","#0E8FD1","#099DCC","#0DA7C3","#1EAFB4","#2EB7A4","#52BA92","#74BD81","#96BE71","#B4BD65","#D2BB58","#E3C04A","#F5C53A","#FDD32A","#FBE81C","#F9FB0E"]}}
          }
        }
      ]
    },
    {
      "bounds": "flush",
      "spacing": 2,
      "resolve": {"scale": {"x": "independent", "y": "independent"}},
      "hconcat": [
        {
          "width": 312, "height": 380,
          "view": {"stroke": null},
          "title": {"text": "y=0.66, b=0 [kHz], Δω=0", "font": "Liberation Sans", "fontSize": 20, "fontWeight": "normal", "color": "black", "anchor": "middle", "frame": "group", "dx": 30, "offset": -3, "baseline": "alphabetic"},
          "data": {"name": "pOff"},
          "encoding": {
            "x": {"field": "t", "type": "quantitative", "scale": {"domain": [0, 13], "nice": false, "zero": false},
              "axis": {"zindex": 1, "values": [0,0.5,1,1.5,2,2.5,3,3.5,4,4.5,5,5.5,6,6.5,7,7.5,8,8.5,9,9.5,10,10.5,11,11.5,12,12.5,13],
                "labelExpr": "datum.value % 2 == 0 ? format(datum.value, 'd') : ''",
                "tickSize": {"condition": {"test": "datum.value % 2 == 0", "value": -10}, "value": -5},
                "grid": true, "gridOpacity": {"condition": {"test": "datum.value % 2 == 0 || datum.value == 13", "value": 1}, "value": 0},
                "gridDash": {"condition": {"test": "datum.value == 0 || datum.value == 13", "value": []}, "value": [1, 2]},
                "labelPadding": 11.5, "title": "Decay Time [μSec]", "titleAnchor": "end", "titleAlign": "right", "titleX": 312, "titleY": 39, "titleBaseline": "middle"}},
            "y": {"field": "lo", "type": "quantitative", "scale": {"domain": [-1, 1], "nice": false, "zero": false},
              "axis": {"zindex": 1, "values": [-1,-0.95,-0.9,-0.85,-0.8,-0.75,-0.7,-0.65,-0.6,-0.55,-0.5,-0.45,-0.4,-0.35,-0.3,-0.25,-0.2,-0.15,-0.1,-0.05,0,0.05,0.1,0.15,0.2,0.25,0.3,0.35,0.4,0.45,0.5,0.55,0.6,0.65,0.7,0.75,0.8,0.85,0.9,0.95,1],
                "labelExpr": "abs(datum.value*5 - round(datum.value*5)) < 0.01 ? format(datum.value, '~g') : ''",
                "tickSize": {"condition": {"test": "abs(datum.value*5 - round(datum.value*5)) < 0.01", "value": -14}, "value": -7},
                "grid": true, "gridOpacity": {"condition": {"test": "abs(datum.value*5 - round(datum.value*5)) < 0.01", "value": 1}, "value": 0},
                "gridDash": {"condition": {"test": "datum.value < -0.99", "value": []}, "value": [1, 2]},
                "labelPadding": 17, "labelOffset": 1.5,
                "title": "cosθ", "titleAngle": -90, "titleX": -64, "titleY": 0, "titleAlign": "right", "titleBaseline": "alphabetic"}},
            "y2": {"field": "hi"},
            "detail": {"field": "part"},
            "fill": {"field": "p", "type": "quantitative", "legend": null, "scale": {"type": "threshold", "domain": [0.00695,0.0139,0.02085,0.0278,0.03475,0.0417,0.04865,0.0556,0.06255,0.0695,0.07645,0.0834,0.09035,0.0973,0.10425,0.1112,0.11815,0.1251,0.13205], "range": ["#273DA8","#1751CB","#1063DC","#1271D9","#1480D6","#0E8FD1","#099DCC","#0DA7C3","#1EAFB4","#2EB7A4","#52BA92","#74BD81","#96BE71","#B4BD65","#D2BB58","#E3C04A","#F5C53A","#FDD32A","#FBE81C","#F9FB0E"]}}
          },
          "layer": [
            {"transform": [{"filter": "datum.p == 0.0938"}], "mark": {"type": "area", "orient": "vertical", "interpolate": "monotone", "clip": true}},
            {"transform": [{"filter": "datum.p == 0.1008"}], "mark": {"type": "area", "orient": "vertical", "interpolate": "monotone", "clip": true}},
            {"transform": [{"filter": "datum.p == 0.1077"}], "mark": {"type": "area", "orient": "vertical", "interpolate": "monotone", "clip": true}},
            {"transform": [{"filter": "datum.p == 0.1147"}], "mark": {"type": "area", "orient": "vertical", "interpolate": "monotone", "clip": true}},
            {"transform": [{"filter": "datum.p == 0.1216"}], "mark": {"type": "area", "orient": "vertical", "interpolate": "monotone", "clip": true}},
            {"transform": [{"filter": "datum.p == 0.1286"}], "mark": {"type": "area", "orient": "vertical", "interpolate": "monotone", "clip": true}},
            {"transform": [{"filter": "datum.p == 0.1355"}], "mark": {"type": "area", "orient": "vertical", "interpolate": "monotone", "clip": true}}
          ]
        },
        {
          "width": 28, "height": 380,
          "view": {"stroke": "#777777", "strokeWidth": 2},
          "data": {"name": "bands"},
          "mark": {"type": "rect", "strokeWidth": 1},
          "encoding": {
            "x": {"datum": 0, "type": "quantitative", "scale": {"domain": [0, 1], "nice": false, "zero": false},
              "axis": {"orient": "top", "ticks": false, "labels": false, "grid": false, "title": "OFF", "titleFontSize": 10, "titleAngle": -90, "titleX": 77, "titleY": 15, "titleAlign": "left", "titleBaseline": "alphabetic"}},
            "x2": {"datum": 1},
            "y": {"field": "lo", "type": "quantitative", "scale": {"domain": [0, 0.139], "nice": false, "zero": false},
              "axis": {"zindex": 1, "orient": "right", "values": [0,0.02,0.04,0.06,0.08,0.1,0.12], "labelExpr": "format(datum.value, '~g')", "tickSize": -15, "labelPadding": 17, "labelOffset": 1.5, "grid": false,
                "domain": true, "domainColor": "black", "domainWidth": 1,
                "title": "P", "titleAngle": -90, "titleX": 46, "titleY": 26, "titleAlign": "left", "titleBaseline": "alphabetic"}},
            "y2": {"field": "hi"},
            "fill": {"field": "p", "type": "quantitative", "legend": null, "scale": {"type": "threshold", "domain": [0.00695,0.0139,0.02085,0.0278,0.03475,0.0417,0.04865,0.0556,0.06255,0.0695,0.07645,0.0834,0.09035,0.0973,0.10425,0.1112,0.11815,0.1251,0.13205], "range": ["#273DA8","#1751CB","#1063DC","#1271D9","#1480D6","#0E8FD1","#099DCC","#0DA7C3","#1EAFB4","#2EB7A4","#52BA92","#74BD81","#96BE71","#B4BD65","#D2BB58","#E3C04A","#F5C53A","#FDD32A","#FBE81C","#F9FB0E"]}},
            "stroke": {"field": "p", "type": "quantitative", "legend": null, "scale": {"type": "threshold", "domain": [0.00695,0.0139,0.02085,0.0278,0.03475,0.0417,0.04865,0.0556,0.06255,0.0695,0.07645,0.0834,0.09035,0.0973,0.10425,0.1112,0.11815,0.1251,0.13205], "range": ["#273DA8","#1751CB","#1063DC","#1271D9","#1480D6","#0E8FD1","#099DCC","#0DA7C3","#1EAFB4","#2EB7A4","#52BA92","#74BD81","#96BE71","#B4BD65","#D2BB58","#E3C04A","#F5C53A","#FDD32A","#FBE81C","#F9FB0E"]}}
          }
        }
      ]
    }
  ]
}
